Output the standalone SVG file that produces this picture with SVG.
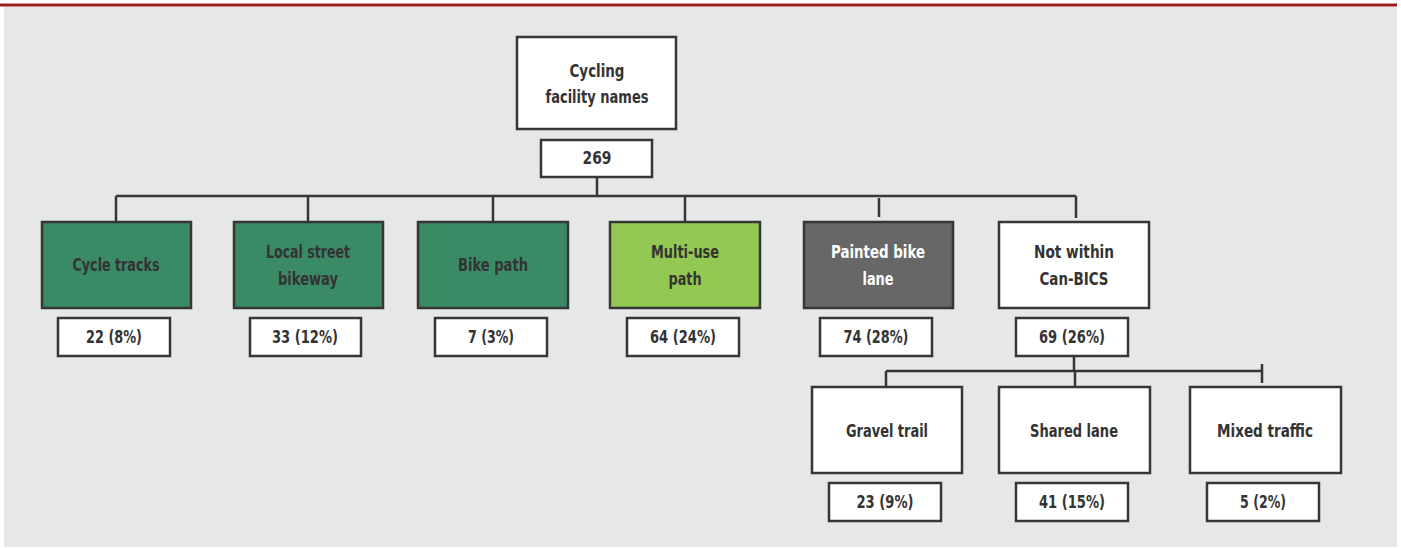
<svg xmlns="http://www.w3.org/2000/svg" width="1401" height="548" viewBox="0 0 1401 548">
<style>
.bx{stroke:#363636;stroke-width:2.5}
.w{fill:#ffffff}
.dg{fill:#3b8a66}
.lg{fill:#93c852}
.gr{fill:#666766}
.t{font-family:"DejaVu Sans Condensed","Liberation Sans",sans-serif;font-weight:bold;font-size:17px;fill:#333333;text-anchor:middle;dominant-baseline:central}
.tw{fill:#ffffff}
.ln{stroke:#363636;stroke-width:2.5;fill:none}
</style>
<rect x="0" y="0" width="1401" height="548" fill="#ffffff"/>
<rect x="4" y="7" width="1393" height="540" fill="#e6e8e7"/>
<rect x="0" y="3.5" width="1397" height="3" fill="#9e1b1b"/>
<g id="connectors">
<path class="ln" d="M597 177V196M116 196H1076M116 196V222M308 196V222M493 196V222M685 196V222M879 198V217M1076 196V218"/>
<path class="ln" d="M1074 356V371M886 371H1262M886 371V387M1075 371V387M1262 364V383"/>
</g>
<g id="root"><rect class="bx w" x="517" y="37" width="159" height="92"/><text class="t" x="597" y="71" textLength="55" lengthAdjust="spacingAndGlyphs">Cycling</text><text class="t" x="597" y="97" textLength="103" lengthAdjust="spacingAndGlyphs">facility names</text></g>
<g id="root-count"><rect class="bx w" x="541" y="140" width="111" height="37"/><text class="t" x="597" y="158" textLength="29" lengthAdjust="spacingAndGlyphs">269</text></g>
<g id="cycle-tracks"><rect class="bx dg" x="42" y="222" width="149" height="86"/><text class="t" x="116" y="265" textLength="87" lengthAdjust="spacingAndGlyphs">Cycle tracks</text></g>
<g id="cycle-tracks-count"><rect class="bx w" x="58" y="318" width="112" height="38"/><text class="t" x="114" y="337" textLength="56" lengthAdjust="spacingAndGlyphs">22 (8%)</text></g>
<g id="local-street"><rect class="bx dg" x="234" y="222" width="149" height="86"/><text class="t" x="308" y="252" textLength="84" lengthAdjust="spacingAndGlyphs">Local street</text><text class="t" x="308" y="279" textLength="60" lengthAdjust="spacingAndGlyphs">bikeway</text></g>
<g id="local-street-count"><rect class="bx w" x="250" y="318" width="111" height="38"/><text class="t" x="305" y="337" textLength="66" lengthAdjust="spacingAndGlyphs">33 (12%)</text></g>
<g id="bike-path"><rect class="bx dg" x="418" y="222" width="150" height="86"/><text class="t" x="493" y="265" textLength="70" lengthAdjust="spacingAndGlyphs">Bike path</text></g>
<g id="bike-path-count"><rect class="bx w" x="435" y="318" width="112" height="38"/><text class="t" x="491" y="337" textLength="46" lengthAdjust="spacingAndGlyphs">7 (3%)</text></g>
<g id="multi-use"><rect class="bx lg" x="610" y="222" width="150" height="86"/><text class="t" x="685" y="252" textLength="68" lengthAdjust="spacingAndGlyphs">Multi-use</text><text class="t" x="685" y="279" textLength="33" lengthAdjust="spacingAndGlyphs">path</text></g>
<g id="multi-use-count"><rect class="bx w" x="627" y="318" width="112" height="38"/><text class="t" x="683" y="337" textLength="66" lengthAdjust="spacingAndGlyphs">64 (24%)</text></g>
<g id="painted"><rect class="bx gr" x="804" y="222" width="149" height="86"/><text class="t tw" x="878" y="252" textLength="94" lengthAdjust="spacingAndGlyphs">Painted bike</text><text class="t tw" x="878" y="279" textLength="31" lengthAdjust="spacingAndGlyphs">lane</text></g>
<g id="painted-count"><rect class="bx w" x="820" y="318" width="112" height="38"/><text class="t" x="876" y="337" textLength="65" lengthAdjust="spacingAndGlyphs">74 (28%)</text></g>
<g id="not-within"><rect class="bx w" x="999" y="222" width="150" height="86"/><text class="t" x="1074" y="252" textLength="80" lengthAdjust="spacingAndGlyphs">Not within</text><text class="t" x="1074" y="279" textLength="69" lengthAdjust="spacingAndGlyphs">Can-BICS</text></g>
<g id="not-within-count"><rect class="bx w" x="1016" y="318" width="112" height="38"/><text class="t" x="1072" y="337" textLength="66" lengthAdjust="spacingAndGlyphs">69 (26%)</text></g>
<g id="gravel"><rect class="bx w" x="812" y="387" width="150" height="86"/><text class="t" x="887" y="431" textLength="82" lengthAdjust="spacingAndGlyphs">Gravel trail</text></g>
<g id="gravel-count"><rect class="bx w" x="829" y="483" width="112" height="38"/><text class="t" x="885" y="502" textLength="57" lengthAdjust="spacingAndGlyphs">23 (9%)</text></g>
<g id="shared"><rect class="bx w" x="999" y="387" width="151" height="86"/><text class="t" x="1074" y="431" textLength="88" lengthAdjust="spacingAndGlyphs">Shared lane</text></g>
<g id="shared-count"><rect class="bx w" x="1016" y="483" width="112" height="38"/><text class="t" x="1072" y="502" textLength="66" lengthAdjust="spacingAndGlyphs">41 (15%)</text></g>
<g id="mixed"><rect class="bx w" x="1190" y="387" width="151" height="86"/><text class="t" x="1265" y="431" textLength="96" lengthAdjust="spacingAndGlyphs">Mixed traffic</text></g>
<g id="mixed-count"><rect class="bx w" x="1207" y="483" width="112" height="38"/><text class="t" x="1263" y="502" textLength="46" lengthAdjust="spacingAndGlyphs">5 (2%)</text></g>
</svg>
